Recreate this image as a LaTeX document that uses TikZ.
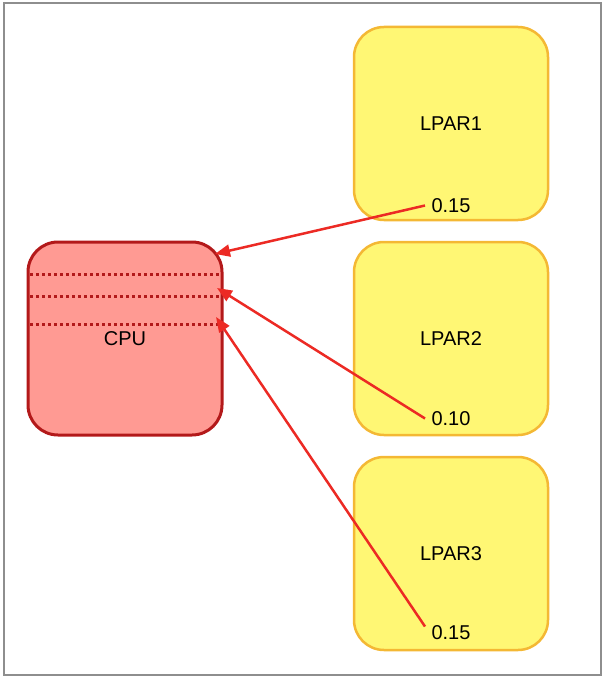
\documentclass[tikz,border=0pt]{standalone}
\usepackage{color}
\usepackage{fontspec}
\setmainfont{Liberation Sans}
\usepackage{tikz}
\usetikzlibrary{arrows.meta}

\definecolor{lparfill}{HTML}{FFF774}
\definecolor{lparline}{HTML}{F4B834}
\definecolor{cpufill}{HTML}{FF9A93}
\definecolor{cpuline}{HTML}{B3191A}
\definecolor{arrowred}{HTML}{EC2A24}
\definecolor{framegray}{HTML}{8E8E8E}

\begin{document}
\begin{tikzpicture}[
                x=1pt, y=-1pt,                % 像素坐标
                node distance=215pt,          % 分区之间的间距
                every node/.style={
                    font=\fontsize{20}{22}\selectfont
                },
                >={Triangle[length=15pt, width=12pt]},
                lpar/.style={
                    rectangle,
                    rounded corners=30pt,
                    draw=lparline,
                    fill=lparfill,
                    line width=2.5pt,
                    minimum width=194pt,
                    minimum height=193pt
                },
                cpu/.style={lpar, draw=cpuline, fill=cpufill, line width=3pt},
                slot/.style={draw=cpuline, line width=3pt, dash pattern=on 3pt off 3pt},
                arrow/.style={->, draw=arrowred, line width=2.5pt}
            ]
                \useasboundingbox (0,0) rectangle (605,679);
                \draw[framegray, line width=2pt] (4,3) rectangle (601,675);

                % 节点
                \node[lpar] (lpar1) at (451,123.5) {LPAR1};
                \node[lpar] (lpar2) [below of=lpar1] {LPAR2};
                \node[lpar] (lpar3) [below of=lpar2] {LPAR3};
                \node[cpu] (cpu) at (125,338.5) {CPU};
                \foreach \y in {274,296,324}
                    \draw[slot] (30,\y) -- (220,\y);   % 虚线分隔

                % 权重
                \node (w1) [below of=lpar1, node distance=82pt] {0.15};
                \node (w2) [below of=lpar2, node distance=80pt] {0.10};
                \node (w3) [below of=lpar3, node distance=79pt] {0.15};

                % 箭头终点
                \coordinate (in1) at (215,254);
                \coordinate (in2) at (217,288);
                \coordinate (in3) at (216,317);

                % 边
                \draw[arrow] ([xshift=-3pt]w1.west) -- (in1);
                \draw[arrow] ([xshift=-3pt]w2.west) -- (in2);
                \draw[arrow] ([xshift=-3pt, yshift=6pt]w3.west) -- (in3);
            \end{tikzpicture}
\end{document}
